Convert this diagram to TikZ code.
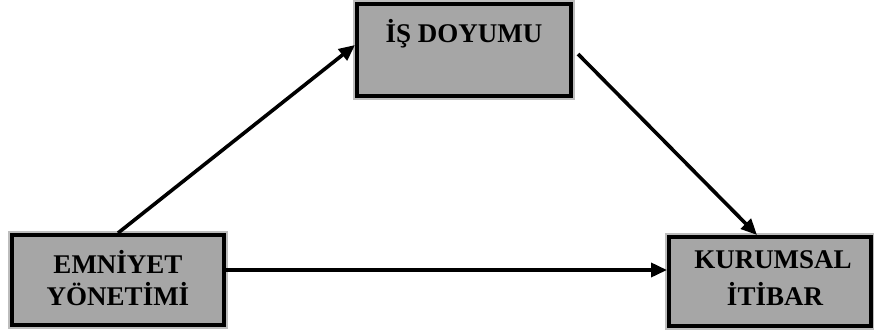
\documentclass[tikz,border=0pt]{standalone}
\usepackage{fontspec}
\setmainfont{Liberation Serif}
\usetikzlibrary{arrows.meta}
\definecolor{boxgray}{HTML}{A6A6A6}
\definecolor{haloGray}{HTML}{BDBDBD}
\tikzset{
  varbox/.style={rectangle, draw=black, line width=4pt, fill=boxgray,
    inner sep=0pt, preaction={draw=haloGray, line width=8pt}},
  lbl/.style={anchor=base, inner sep=0pt, font=\fontsize{27pt}{31pt}\selectfont\bfseries},
  conn/.style={line width=3.6pt, -{Triangle[length=16pt,width=14pt]}}
}
\begin{document}
\begin{tikzpicture}[x=1pt,y=-1pt]
\useasboundingbox (0,0) rectangle (874,335);
\node[varbox, minimum width=214pt, minimum height=92pt] (is) at (464,50) {};
\node[varbox, minimum width=212pt, minimum height=90pt] (em) at (118,280) {};
\node[varbox, minimum width=202pt, minimum height=89pt] (ku) at (770,281.5) {};
\node[lbl] (isT) at (464,42) {İŞ DOYUMU};
\node[lbl] (emT1) at (118,273) {EMNİYET};
\node[lbl] (emT2) at (118,305) {YÖNETİMİ};
\node[lbl] (kuT1) at (773,268) {KURUMSAL};
\node[lbl] (kuT2) at (775,305) {İTİBAR};
\draw[conn] (em.north) -- ([yshift=5pt]is.west);
\draw[conn] ([xshift=5pt,yshift=-4pt]is.east) -- ([xshift=-13pt]ku.north);
\draw[conn] ([yshift=10pt]em.east) -- ([yshift=11.5pt]ku.west);
\end{tikzpicture}
\end{document}
